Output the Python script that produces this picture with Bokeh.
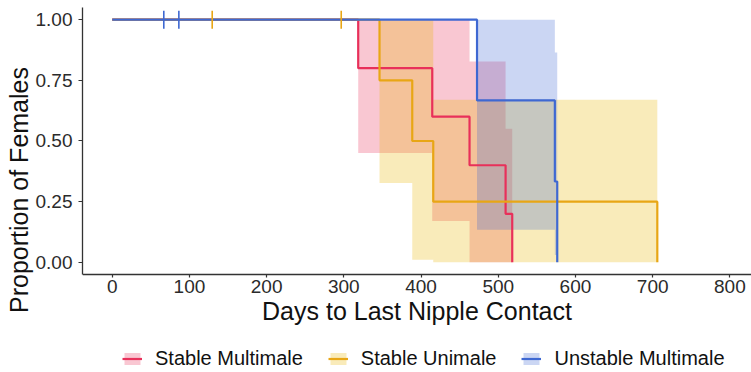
from bokeh.plotting import figure
from bokeh.models import Range1d, Legend, LegendItem, NumeralTickFormatter, Title
from bokeh.embed import file_html
from bokeh.resources import INLINE
import numpy as np

# ---------------- data ----------------
groups = ["Stable Multimale", "Stable Unimale", "Unstable Multimale"]
line_colors = ["#E8305A", "#E8A615", "#3E68D2"]
band_colors = ["#E8305A", "#E8B400", "#3E68D2"]

# Kaplan-Meier step curves: days and proportion of females
sm_time = [0, 318.6, 414.5, 462.8, 509.5, 518.1]
sm_surv = [1.0, 0.8, 0.6, 0.4, 0.2, 0.0]
su_time = [0, 346.2, 388.6, 415.8, 706.0]
su_surv = [1.0, 0.75, 0.5, 0.25, 0.0]
um_time = [0, 472.5, 573.3, 576.4]
um_surv = [1.0, 0.667, 0.333, 0.0]

# confidence bands (step, starting at first event)
sm_band_time = [318.6, 414.5, 462.8, 509.5, 518.1]
sm_lower = [0.45, 0.17, 0.0, 0.0, 0.0]
sm_upper = [1.0, 1.0, 0.828, 0.55, 0.55]
su_band_time = [346.2, 388.6, 415.8, 706.0]
su_lower = [0.327, 0.011, 0.0, 0.0]
su_upper = [1.0, 1.0, 0.67, 0.67]
um_band_time = [472.5, 573.3, 576.4]
um_lower = [0.134, 0.03, 0.03]
um_upper = [1.0, 0.865, 0.865]

# censored observations
sm_cens_time = []
sm_cens_surv = []
su_cens_time = [129.5, 296.6]
su_cens_surv = [1.0, 1.0]
um_cens_time = [66.8, 86.3]
um_cens_surv = [1.0, 1.0]

x_ticks = [0, 100, 200, 300, 400, 500, 600, 700, 800]
y_ticks = [0.0, 0.25, 0.5, 0.75, 1.0]
y_axis_bounds = (-0.05, 1.05)

curves = [
    (sm_time, sm_surv, sm_band_time, sm_lower, sm_upper, sm_cens_time, sm_cens_surv),
    (su_time, su_surv, su_band_time, su_lower, su_upper, su_cens_time, su_cens_surv),
    (um_time, um_surv, um_band_time, um_lower, um_upper, um_cens_time, um_cens_surv),
]

FONT = "Liberation Sans"

# The frame reaches the bottom of the canvas so that the legend (below the
# x axis) is not clipped; the x axis is pinned at y = -0.05.
p = figure(width=751, height=372, output_backend="svg", toolbar_location=None,
           x_range=Range1d(-38.5, 828.0), y_range=Range1d(-0.454, 1.05),
           min_border_left=82, min_border_right=0, min_border_top=7,
           min_border_bottom=0)
p.outline_line_color = None
p.xgrid.visible = False
p.ygrid.visible = False
p.background_fill_color = "white"
p.border_fill_color = "white"

bands, lines, marks = [], [], []
for (t, s, bt, lo, up, ct, cs), bc in zip(curves, band_colors):
    bands.append(p.varea_step(x=bt, y1=lo, y2=up, step_mode="after",
                              fill_color=bc, fill_alpha=0.27))
for (t, s, bt, lo, up, ct, cs), lc in zip(curves, line_colors):
    lines.append(p.step(x=t, y=s, mode="after", line_color=lc, line_width=2.2))
for (t, s, bt, lo, up, ct, cs), lc in zip(curves, line_colors):
    p.scatter(x=ct, y=cs, marker="dash", angle=np.pi / 2, size=18,
              line_color=lc, line_width=1.6)
    # legend-only censor symbol ("+")
    marks.append(p.scatter(x=[], y=[], marker="cross", size=14,
                           line_color=lc, line_width=1.8))

# axes
for ax in (p.xaxis[0], p.yaxis[0]):
    ax.axis_line_color = "#333333"
    ax.axis_line_width = 1.3
    ax.major_tick_line_color = "#333333"
    ax.major_tick_line_width = 1.2
    ax.minor_tick_line_color = None
    ax.major_tick_in = 0
    ax.major_label_text_font = FONT
    ax.major_label_text_font_size = "19px"
    ax.major_label_text_color = "#2b2b2b"
    ax.axis_label_text_font = FONT
    ax.axis_label_text_font_size = "25px"
    ax.axis_label_text_font_style = "normal"
    ax.axis_label_text_color = "#111111"

p.xaxis.ticker = x_ticks
p.yaxis.ticker = y_ticks
p.yaxis.bounds = y_axis_bounds
p.xaxis.fixed_location = y_axis_bounds[0]
p.yaxis.formatter = NumeralTickFormatter(format="0.00")
p.xaxis.axis_label = "Days to Last Nipple Contact"
p.xaxis.major_tick_out = 3
p.yaxis.major_tick_out = 4
p.xaxis.major_label_standoff = 3
p.yaxis.major_label_standoff = 6
p.xaxis.axis_label_standoff = 0

# y-axis title, centred on the axis span (shifted up from the frame centre)
p.add_layout(Title(text="Proportion of Females", align="center", offset=50,
                   standoff=0, text_font=FONT, text_font_size="25px",
                   text_font_style="normal", text_color="#111111"), "left")

items = [LegendItem(label=g, renderers=[b, l, m])
         for g, b, l, m in zip(groups, bands, lines, marks)]
legend = Legend(items=items, orientation="horizontal", location=(40, 2),
                glyph_width=20, glyph_height=15, label_standoff=13, spacing=25,
                padding=0, margin=0, border_line_color=None,
                background_fill_alpha=0, label_text_font=FONT,
                label_text_font_size="20px", label_text_color="#111111")
p.add_layout(legend)

open("out.html", "w").write(file_html(p, INLINE))
